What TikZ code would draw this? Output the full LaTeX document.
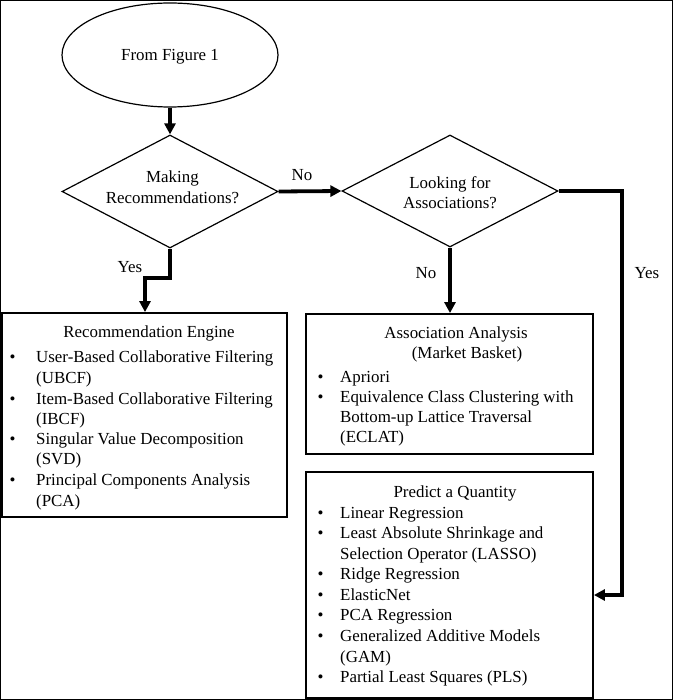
\documentclass[tikz,border=0pt]{standalone}
\usepackage{fontspec}
\setmainfont{Liberation Serif}
\usetikzlibrary{shapes.geometric,arrows.meta}
\begin{document}
\begin{tikzpicture}[x=1pt,y=-1pt,
  txt/.style={inner sep=0pt,font=\fontsize{16.9}{20.7}\selectfont},
  box/.style={draw,line width=1.8pt,inner sep=0pt},
  dia/.style={draw,diamond,line width=1.2pt,inner sep=0pt},
  arr/.style={line width=3.8pt,-{Triangle[length=11pt,width=11pt]}}]
\useasboundingbox (0,0) rectangle (673,700);
\draw[line width=1.2pt] (0.6,0.6) rectangle (672.4,699.4);
% shapes
\node[draw,ellipse,line width=1.2pt,minimum width=216pt,minimum height=104pt,inner sep=0pt] (ell) at (170,55) {};
\node[dia,minimum width=216pt,minimum height=113pt] (d1) at (170,191.5) {};
\node[dia,minimum width=216pt,minimum height=112pt] (d2) at (450,191) {};
\node[box,minimum width=285pt,minimum height=204pt] (rec) at (144.5,415) {};
\node[box,minimum width=287pt,minimum height=140pt] (assoc) at (449.5,384) {};
\node[box,minimum width=287pt,minimum height=226pt] (pred) at (449.5,585) {};
% texts in ellipse and diamonds
\node[txt,anchor=base] (tell) at (170,60.5) {From Figure 1};
\node[txt,anchor=base] (td1a) at (172.5,182.5) {Making};
\node[txt,anchor=base] (td1b) at (172.5,203.5) {Recommendations?};
\node[txt,anchor=base] (td2a) at (450,188.5) {Looking for};
\node[txt,anchor=base] (td2b) at (450,208.5) {Associations?};
% connectors
\draw[arr] (ell.south) -- (d1.north);
\draw[arr] (d1.east) -- (d2.west);
\node[txt,anchor=base] (lno1) at (302,180.5) {No};
\coordinate (y1) at (170,278);
\coordinate (y2) at (145,278);
\draw[arr] (d1.south) -- (y1) -- (y2) -- (y2 |- rec.north);
\node[txt,anchor=base] (lyes1) at (130,272.5) {Yes};
\draw[arr] (d2.south) -- (d2.south |- assoc.north);
\node[txt,anchor=base] (lno2) at (426,278.5) {No};
\coordinate (c1) at (622,191);
\coordinate (c2) at (622,595);
\draw[arr] (d2.east) -- (c1) -- (c2) -- (c2 -| pred.east);
\node[txt,anchor=base] (lyes2) at (647,278.5) {Yes};
% Recommendation engine
\node[txt,anchor=base] (rech) at (149,337.5) {Recommendation Engine};
\foreach \t/\yy/\b [count=\i] in {User-Based Collaborative Filtering/362.5/1,(UBCF)/383.5/0,Item-Based Collaborative Filtering/404.5/1,(IBCF)/424.5/0,Singular Value Decomposition/444.5/1,(SVD)/464.5/0,Principal Components Analysis/485.5/1,(PCA)/506.5/0}{
  \node[txt,anchor=base west] (rect\i) at (36,\yy) {\t};
  \ifnum\b=1 \node[txt,anchor=base] (recb\i) at (12.5,\yy) {\textbullet};\fi
}
% Association analysis
\node[txt,anchor=base] (assh1) at (456,338.5) {Association Analysis};
\node[txt,anchor=base] (assh2) at (467,358.5) {(Market Basket)};
\foreach \t/\yy/\b [count=\i] in {Apriori/382.5/1,Equivalence Class Clustering with/402.5/1,Bottom-up Lattice Traversal/422.5/0,(ECLAT)/442.5/0}{
  \node[txt,anchor=base west] (asst\i) at (340,\yy) {\t};
  \ifnum\b=1 \node[txt,anchor=base] (assb\i) at (320.5,\yy) {\textbullet};\fi
}
% Predict a quantity
\node[txt,anchor=base] (predh) at (455,497.5) {Predict a Quantity};
\foreach \t/\yy/\b [count=\i] in {Linear Regression/518.5/1,Least Absolute Shrinkage and/538.5/1,Selection Operator (LASSO)/559.5/0,Ridge Regression/579.5/1,ElasticNet/600.5/1,PCA Regression/620.5/1,Generalized Additive Models/641.5/1,(GAM)/662.5/0,Partial Least Squares (PLS)/682.5/1}{
  \node[txt,anchor=base west] (predt\i) at (340,\yy) {\t};
  \ifnum\b=1 \node[txt,anchor=base] (predb\i) at (320.5,\yy) {\textbullet};\fi
}
\end{tikzpicture}
\end{document}
